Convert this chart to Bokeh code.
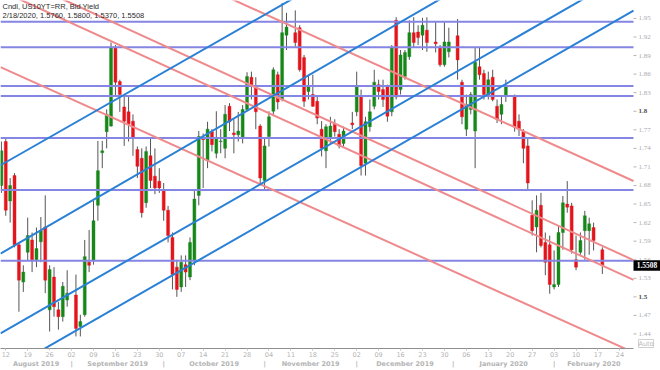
import numpy as np
from bokeh.plotting import figure
from bokeh.models import Range1d, FixedTicker, LinearAxis, Label, ColumnDataSource
from bokeh.embed import file_html
from bokeh.resources import INLINE

# ---- daily candles: US 10Y bid yield -------------------------------------
dates = [
    "2019-08-09",
    "2019-08-12", "2019-08-13", "2019-08-14", "2019-08-15", "2019-08-16",
    "2019-08-19", "2019-08-20", "2019-08-21", "2019-08-22", "2019-08-23",
    "2019-08-26", "2019-08-27", "2019-08-28", "2019-08-29", "2019-08-30",
    "2019-09-03", "2019-09-04", "2019-09-05", "2019-09-06",
    "2019-09-09", "2019-09-10", "2019-09-11", "2019-09-12", "2019-09-13",
    "2019-09-16", "2019-09-17", "2019-09-18", "2019-09-19", "2019-09-20",
    "2019-09-23", "2019-09-24", "2019-09-25", "2019-09-26", "2019-09-27",
    "2019-09-30", "2019-10-01", "2019-10-02", "2019-10-03", "2019-10-04",
    "2019-10-07", "2019-10-08", "2019-10-09", "2019-10-10", "2019-10-11",
    "2019-10-14", "2019-10-15", "2019-10-16", "2019-10-17", "2019-10-18",
    "2019-10-21", "2019-10-22", "2019-10-23", "2019-10-24", "2019-10-25",
    "2019-10-28", "2019-10-29", "2019-10-30", "2019-10-31", "2019-11-01",
    "2019-11-04", "2019-11-05", "2019-11-06", "2019-11-07", "2019-11-08",
    "2019-11-12", "2019-11-13", "2019-11-14", "2019-11-15",
    "2019-11-18", "2019-11-19", "2019-11-20", "2019-11-21", "2019-11-22",
    "2019-11-25", "2019-11-26", "2019-11-27", "2019-11-29",
    "2019-12-02", "2019-12-03", "2019-12-04", "2019-12-05", "2019-12-06",
    "2019-12-09", "2019-12-10", "2019-12-11", "2019-12-12", "2019-12-13",
    "2019-12-16", "2019-12-17", "2019-12-18", "2019-12-19", "2019-12-20",
    "2019-12-23", "2019-12-24", "2019-12-26", "2019-12-27",
    "2019-12-30", "2019-12-31", "2020-01-02", "2020-01-03",
    "2020-01-06", "2020-01-07", "2020-01-08", "2020-01-09", "2020-01-10",
    "2020-01-13", "2020-01-14", "2020-01-15", "2020-01-16", "2020-01-17",
    "2020-01-21", "2020-01-22", "2020-01-23", "2020-01-24",
    "2020-01-27", "2020-01-28", "2020-01-29", "2020-01-30", "2020-01-31",
    "2020-02-03", "2020-02-04", "2020-02-05", "2020-02-06", "2020-02-07",
    "2020-02-10", "2020-02-11", "2020-02-12", "2020-02-13", "2020-02-14",
    "2020-02-18",
]

opens = [
    1.680,
    1.751, 1.655, 1.696, 1.584, 1.524,
    1.572, 1.592, 1.560, 1.589, 1.613,
    1.479, 1.532, 1.479, 1.468, 1.495,
    1.503, 1.452, 1.471, 1.556,
    1.559, 1.648, 1.733, 1.767, 1.776,
    1.903, 1.848, 1.807, 1.799, 1.784,
    1.738, 1.724, 1.652, 1.728, 1.695,
    1.687, 1.672, 1.640, 1.596, 1.548,
    1.516, 1.552, 1.532, 1.559, 1.664,
    1.756, 1.720, 1.767, 1.732, 1.751,
    1.740, 1.808, 1.765, 1.762, 1.756,
    1.803, 1.855, 1.840, 1.776, 1.688,
    1.759, 1.800, 1.859, 1.819, 1.923,
    1.927, 1.935, 1.887, 1.832,
    1.827, 1.816, 1.771, 1.736, 1.756,
    1.779, 1.763, 1.748, 1.781,
    1.799, 1.824, 1.716, 1.775, 1.808,
    1.843, 1.835, 1.839, 1.799, 1.947,
    1.835, 1.856, 1.888, 1.927, 1.928,
    1.923, 1.931, 1.912, 1.903,
    1.875, 1.896, 1.922, 1.847,
    1.771, 1.803, 1.768, 1.872, 1.861,
    1.824, 1.855, 1.808, 1.795, 1.824,
    1.824, 1.784, 1.767, 1.744,
    1.632, 1.613, 1.648, 1.588, 1.584,
    1.516, 1.520, 1.604, 1.650, 1.647,
    1.560, 1.572, 1.607, 1.607, 1.612,
    1.5760,
]

highs = [
    1.751,
    1.755, 1.692, 1.700, 1.588, 1.551,
    1.628, 1.604, 1.612, 1.629, 1.664,
    1.551, 1.548, 1.492, 1.524, 1.543,
    1.536, 1.471, 1.592, 1.608,
    1.655, 1.752, 1.752, 1.803, 1.911,
    1.907, 1.851, 1.824, 1.823, 1.795,
    1.743, 1.740, 1.743, 1.756, 1.740,
    1.708, 1.684, 1.647, 1.604, 1.560,
    1.567, 1.567, 1.596, 1.671, 1.768,
    1.764, 1.783, 1.771, 1.800, 1.771,
    1.810, 1.813, 1.787, 1.799, 1.810,
    1.863, 1.864, 1.855, 1.779, 1.756,
    1.800, 1.871, 1.864, 1.975, 1.959,
    1.963, 1.939, 1.891, 1.859,
    1.859, 1.823, 1.784, 1.779, 1.791,
    1.787, 1.771, 1.775, 1.799,
    1.864, 1.835, 1.791, 1.819, 1.867,
    1.851, 1.851, 1.843, 1.907, 1.952,
    1.899, 1.899, 1.947, 1.952, 1.939,
    1.951, 1.952, 1.944, 1.907,
    1.944, 1.935, 1.949, 1.851,
    1.827, 1.831, 1.903, 1.903, 1.867,
    1.864, 1.867, 1.819, 1.823, 1.851,
    1.827, 1.795, 1.771, 1.756,
    1.656, 1.664, 1.668, 1.604, 1.599,
    1.575, 1.615, 1.663, 1.687, 1.652,
    1.599, 1.604, 1.639, 1.628, 1.620,
    1.5800,
]

lows = [
    1.668,
    1.631, 1.620, 1.580, 1.476, 1.508,
    1.559, 1.540, 1.548, 1.556, 1.506,
    1.444, 1.468, 1.447, 1.460, 1.484,
    1.436, 1.436, 1.468, 1.540,
    1.552, 1.623, 1.708, 1.740, 1.775,
    1.824, 1.799, 1.744, 1.751, 1.728,
    1.692, 1.628, 1.644, 1.676, 1.666,
    1.668, 1.623, 1.588, 1.512, 1.500,
    1.508, 1.516, 1.527, 1.551, 1.648,
    1.676, 1.708, 1.735, 1.724, 1.732,
    1.724, 1.768, 1.732, 1.751, 1.748,
    1.800, 1.819, 1.771, 1.684, 1.671,
    1.743, 1.792, 1.803, 1.816, 1.899,
    1.904, 1.864, 1.807, 1.819,
    1.807, 1.779, 1.727, 1.708, 1.748,
    1.759, 1.740, 1.743, 1.771,
    1.792, 1.696, 1.696, 1.767, 1.803,
    1.819, 1.807, 1.783, 1.792, 1.819,
    1.827, 1.851, 1.883, 1.903, 1.907,
    1.899, 1.896, 1.895, 1.872,
    1.872, 1.887, 1.851, 1.779,
    1.760, 1.795, 1.708, 1.851, 1.819,
    1.819, 1.816, 1.781, 1.779, 1.815,
    1.767, 1.760, 1.716, 1.672,
    1.599, 1.572, 1.580, 1.535, 1.505,
    1.512, 1.516, 1.576, 1.636, 1.570,
    1.543, 1.568, 1.560, 1.568, 1.575,
    1.5370,
]

closes = [
    1.736,
    1.640, 1.680, 1.584, 1.527, 1.540,
    1.599, 1.560, 1.578, 1.607, 1.527,
    1.544, 1.484, 1.468, 1.517, 1.506,
    1.449, 1.460, 1.565, 1.551,
    1.623, 1.704, 1.736, 1.795, 1.903,
    1.847, 1.827, 1.784, 1.779, 1.756,
    1.711, 1.636, 1.735, 1.688, 1.676,
    1.676, 1.640, 1.599, 1.536, 1.512,
    1.556, 1.540, 1.588, 1.658, 1.759,
    1.754, 1.771, 1.746, 1.756, 1.752,
    1.795, 1.783, 1.762, 1.768, 1.803,
    1.856, 1.843, 1.799, 1.692, 1.744,
    1.791, 1.867, 1.815, 1.927, 1.936,
    1.911, 1.867, 1.816, 1.839,
    1.808, 1.789, 1.740, 1.775, 1.776,
    1.767, 1.744, 1.768, 1.778,
    1.839, 1.712, 1.783, 1.799, 1.847,
    1.832, 1.819, 1.792, 1.903, 1.823,
    1.891, 1.895, 1.927, 1.911, 1.919,
    1.939, 1.911, 1.909, 1.875,
    1.912, 1.912, 1.883, 1.791,
    1.811, 1.827, 1.879, 1.859, 1.827,
    1.851, 1.819, 1.787, 1.811, 1.839,
    1.775, 1.771, 1.740, 1.684,
    1.607, 1.640, 1.583, 1.556, 1.520,
    1.520, 1.604, 1.652, 1.645, 1.576,
    1.548, 1.591, 1.631, 1.618, 1.591,
    1.5508,
]

last_close = 1.5508

# ---- drawing tools -------------------------------------------------------
# horizontal support / resistance levels
levels = [1.9446, 1.9036, 1.8406, 1.8247, 1.7566, 1.6728, 1.5583]
# rising channel lines: yield at the left and right edge of the price pane
rising_from = [1.7127, 1.5700, 1.4410, 1.3754]
rising_to = [2.2957, 2.1620, 2.0279, 1.9625]
# falling channel lines
falling_from = [2.1506, 2.0269, 1.9949, 1.8712]
falling_to = [1.6872, 1.5594, 1.5275, 1.4101]

# ---- axis texts ----------------------------------------------------------
yield_ticks = [1.44, 1.47, 1.50, 1.53, 1.56, 1.59, 1.62, 1.65, 1.68,
               1.71, 1.74, 1.77, 1.80, 1.83, 1.86, 1.89, 1.92, 1.95]
strong_ticks = [1.50, 1.80]
week_labels = ["12", "19", "26", "02", "09", "16", "23", "30", "07", "14",
               "21", "28", "04", "11", "18", "25", "02", "09", "16", "23",
               "30", "06", "13", "20", "27", "03", "10", "17", "24"]
month_names = ["August 2019", "September 2019", "October 2019",
               "November 2019", "December 2019", "January 2020",
               "February 2020"]
month_firsts = ["2019-09-01", "2019-10-01", "2019-11-01", "2019-12-01",
                "2020-01-01", "2020-02-01"]

origin = np.datetime64("2019-08-12")
x_start, x_end = -1.2, 143.1          # price pane (trading-day index)
px_per_day = 633 / (x_end - x_start)
x_canvas_end = x_end + 27 / px_per_day  # room for the price scale
y_start, y_end = 1.4165, 1.979
yield_per_px = (y_end - y_start) / 352

# trading-day index (weekends removed) used as the x coordinate
xs = np.busday_count(origin, np.array(dates, dtype="datetime64[D]"))
o = np.array(opens)
c = np.array(closes)
up = c >= o
src = ColumnDataSource(dict(
    x=xs, high=highs, low=lows,
    top=np.maximum(o, c), bottom=np.minimum(o, c),
    color=np.where(up, "#17871a", "#e3141b"),
))

week_ticks = [5 * i for i in range(len(week_labels))]
month_seps = [int(np.busday_count(origin, np.busday_offset(np.datetime64(d), 0, roll="forward")))
              for d in month_firsts]
bounds = [x_start] + month_seps + [x_end]
month_centers = [round((bounds[i] + bounds[i + 1]) / 2, 3) for i in range(len(month_names))]

p = figure(width=660, height=370,
           x_range=Range1d(x_start, x_canvas_end), y_range=Range1d(y_start, y_end),
           y_axis_location=None, output_backend="svg", toolbar_location=None,
           min_border_left=0, min_border_top=0, min_border_right=0,
           min_border_bottom=18)
p.outline_line_color = None
p.grid.visible = False
p.background_fill_color = "white"
p.border_fill_color = "white"

# candles
p.segment(x0="x", y0="low", x1="x", y1="high", source=src,
          line_color="#555555", line_width=1)
p.vbar(x="x", width=0.68, top="top", bottom="bottom", source=src,
       fill_color="color", line_color="color", line_width=0.4)

# horizontal levels
n_lv = len(levels)
p.segment(x0=[x_start] * n_lv, y0=levels, x1=[x_end] * n_lv, y1=levels,
          line_color="#8585e3", line_width=2)
# falling channel
p.segment(x0=[x_start] * 4, y0=falling_from, x1=[x_end] * 4, y1=falling_to,
          line_color="#ef8a8c", line_width=2)
# rising channel
p.segment(x0=[x_start] * 4, y0=rising_from, x1=[x_end] * 4, y1=rising_to,
          line_color="#2a80d6", line_width=2)

# price scale on the right edge
tick_len = 3 / px_per_day
p.segment(x0=[x_end] * len(yield_ticks), y0=yield_ticks,
          x1=[x_end + tick_len] * len(yield_ticks), y1=yield_ticks,
          line_color="#b4b4b4", line_width=1)
plain = [t for t in yield_ticks if t not in strong_ticks]
p.text(x=[x_end] * len(plain), y=plain, text=[f"{t:g}" for t in plain],
       x_offset=5, text_baseline="middle", text_align="left",
       text_font="DejaVu Sans", text_font_size="7px", text_color="#ababab")
p.text(x=[x_end] * len(strong_ticks), y=strong_ticks,
       text=[f"{t:g}" for t in strong_ticks],
       x_offset=5, text_baseline="middle", text_align="left",
       text_font="DejaVu Sans", text_font_size="7px", text_font_style="bold",
       text_color="#505050")

# last-price marker on the scale
half_box = 5.3 * yield_per_px
p.quad(left=[x_end], right=[x_canvas_end], bottom=[last_close - half_box],
       top=[last_close + half_box], fill_color="black", line_color=None)
p.text(x=[(x_end + x_canvas_end) / 2], y=[last_close], text=[f"{last_close:.4f}"],
       text_baseline="middle", text_align="center",
       text_font="Liberation Sans", text_font_size="7.5px",
       text_font_style="bold", text_color="white")

p.add_layout(Label(x=x_end, y=y_start, x_offset=5, y_offset=5, text="Auto",
                   text_baseline="middle", text_align="left",
                   text_font="DejaVu Sans", text_font_size="6.5px",
                   text_color="#b8b8b8", border_line_color="#cfcfcf"))

# bottom date axes: week days, then months
xa = p.xaxis[0]
xa.ticker = FixedTicker(ticks=week_ticks)
xa.major_label_overrides = dict(zip(week_ticks, week_labels))
xa.bounds = (x_start, x_end)
xa.axis_line_color = "#8e8e8e"
xa.major_tick_out = 2
xa.major_tick_in = 0
xa.major_tick_line_color = "#c4c4c4"
xa.minor_tick_line_color = None
xa.major_label_standoff = 1
xa.major_label_text_font = "DejaVu Sans"
xa.major_label_text_font_size = "6.5px"
xa.major_label_text_color = "#b4b4b4"

month_ticks = month_centers + [float(s) for s in month_seps]
month_text = month_names + ["|"] * len(month_seps)
ma = LinearAxis(ticker=FixedTicker(ticks=month_ticks))
ma.major_label_overrides = dict(zip(month_ticks, month_text))
ma.axis_line_color = None
ma.major_tick_line_color = None
ma.minor_tick_line_color = None
ma.major_tick_out = 0
ma.major_tick_in = 0
ma.major_label_standoff = 0
ma.major_label_text_font = "DejaVu Sans"
ma.major_label_text_font_size = "6.5px"
ma.major_label_text_font_style = "bold"
ma.major_label_text_color = "#b4b4b4"
p.add_layout(ma, "below")

# header
p.add_layout(Label(x=x_start, y=y_end, x_offset=2, y_offset=-1,
                   text="Cndl, US10YT=RR, Bid Yield", text_baseline="top",
                   text_font="Liberation Sans", text_font_size="7.5px",
                   text_color="#2a2a2a"))
p.add_layout(Label(x=x_start, y=y_end, x_offset=2, y_offset=-10,
                   text="2/18/2020, 1.5760, 1.5800, 1.5370, 1.5508",
                   text_baseline="top", text_font="Liberation Sans",
                   text_font_size="7.5px", text_color="#2a2a2a"))

open("out.html", "w").write(file_html(p, INLINE))
